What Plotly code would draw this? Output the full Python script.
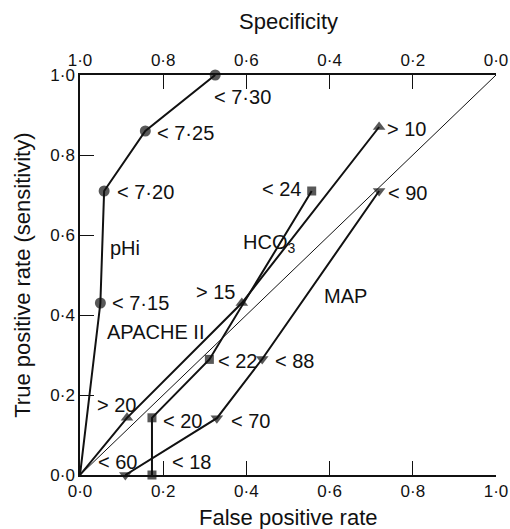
import plotly.graph_objects as go

# ---- data ----
phi_fpr = [0.0, 0.049, 0.058, 0.157, 0.325]
phi_tpr = [0.0, 0.43, 0.71, 0.86, 1.0]
phi_labels = ["", "< 7·15", "< 7·20", "< 7·25", "< 7·30"]

apache_fpr = [0.0, 0.113, 0.389, 0.719]
apache_tpr = [0.0, 0.143, 0.43, 0.87]
apache_labels = ["", "> 20", "> 15", "> 10"]

hco3_fpr = [0.173, 0.173, 0.311, 0.557]
hco3_tpr = [0.0, 0.143, 0.289, 0.71]
hco3_labels = ["< 18", "< 20", "< 22", "< 24"]

map_fpr = [0.109, 0.329, 0.438, 0.719]
map_tpr = [0.0, 0.142, 0.29, 0.71]
map_labels = ["< 60", "< 70", "< 88", "< 90"]

diag = [0.0, 1.0]

tick_vals = [0.0, 0.2, 0.4, 0.6, 0.8, 1.0]
tick_text = ["0·0", "0·2", "0·4", "0·6", "0·8", "1·0"]
spec_vals = [1.0, 0.8, 0.6, 0.4, 0.2, 0.0]
spec_text = ["1·0", "0·8", "0·6", "0·4", "0·2", "0·0"]

FONT = "Liberation Sans, Arial, Helvetica, sans-serif"
BLACK = "#111111"

fig = go.Figure()

fig.add_trace(go.Scatter(x=diag, y=diag, mode="lines",
                         line=dict(color=BLACK, width=1), hoverinfo="skip"))

def curve(xs, ys, symbol, size, msizes=None):
    sizes = msizes if msizes is not None else [size] * len(xs)
    fig.add_trace(go.Scatter(x=xs, y=ys, mode="lines+markers",
                             line=dict(color=BLACK, width=2),
                             marker=dict(symbol=symbol, size=sizes, color=BLACK,
                                         line=dict(width=0)),
                             cliponaxis=False))

curve(phi_fpr, phi_tpr, "circle", 11, [0, 11, 11, 11, 11])
curve(apache_fpr, apache_tpr, "triangle-up", 11, [0, 11, 11, 11])
curve(hco3_fpr, hco3_tpr, "square", 9)
curve(map_fpr, map_tpr, "triangle-down", 11)

# trace anchoring the top (specificity) axis
fig.add_trace(go.Scatter(x=spec_vals, y=[None] * len(spec_vals), xaxis="x2",
                         mode="markers", marker=dict(size=1, opacity=0), hoverinfo="skip"))

ann = []
def lab(x, y, text, anchor="left", size=20):
    ann.append(dict(x=x, y=y, xref="x", yref="y", text=text, showarrow=False,
                    xanchor=anchor, yanchor="middle",
                    font=dict(family=FONT, size=size, color=BLACK)))

# pHi labels
lab(0.318, 0.945, phi_labels[4])
lab(0.181, 0.855, phi_labels[3])
lab(0.085, 0.708, phi_labels[2])
lab(0.072, 0.430, phi_labels[1])
lab(0.068, 0.567, "pHi")
# APACHE labels
lab(0.059, 0.358, "APACHE II")
lab(0.035, 0.175, apache_labels[1])
lab(0.378, 0.458, apache_labels[2], "right")
lab(0.733, 0.864, apache_labels[3])
# HCO3 labels
lab(0.535, 0.715, hco3_labels[3], "right")
lab(0.386, 0.580, "HCO<sub>3</sub>")
lab(0.327, 0.285, hco3_labels[2])
lab(0.195, 0.135, hco3_labels[1])
lab(0.216, 0.033, hco3_labels[0])
# MAP labels
lab(0.581, 0.448, "MAP")
lab(0.736, 0.706, map_labels[3])
lab(0.464, 0.285, map_labels[2])
lab(0.359, 0.135, map_labels[1])
lab(0.039, 0.033, map_labels[0])

# axis titles
ann.append(dict(x=0.5, y=-0.105, xref="paper", yref="paper", text="False positive rate",
                showarrow=False, xanchor="center", yanchor="middle",
                font=dict(family=FONT, size=22, color=BLACK)))
ann.append(dict(x=0.5, y=1.133, xref="paper", yref="paper", text="Specificity",
                showarrow=False, xanchor="center", yanchor="middle",
                font=dict(family=FONT, size=22, color=BLACK)))
ann.append(dict(x=-0.14, y=0.5, xref="paper", yref="paper",
                text="True positive rate (sensitivity)", textangle=-90,
                showarrow=False, xanchor="center", yanchor="middle",
                font=dict(family=FONT, size=22, color=BLACK)))

axis_common = dict(showgrid=False, zeroline=False, showline=True, linecolor=BLACK,
                   linewidth=1.5, ticks="inside", ticklen=14, tickwidth=1.2,
                   automargin=False,
                   tickcolor=BLACK, tickfont=dict(family=FONT, size=17, color=BLACK))

fig.update_layout(
    width=510, height=529,
    margin=dict(l=80, r=14, t=75, b=54, autoexpand=False),
    paper_bgcolor="white", plot_bgcolor="white",
    showlegend=False,
    annotations=ann,
    xaxis=dict(range=[0, 1], tickvals=tick_vals, ticktext=tick_text, **axis_common),
    yaxis=dict(range=[0, 1], tickvals=tick_vals, ticktext=tick_text, **axis_common),
    xaxis2=dict(range=[1, 0], overlaying="x", side="top", anchor="y",
                tickvals=spec_vals, ticktext=spec_text, **axis_common),
)

# remove the browser's default page margin so the figure fills the window exactly
fig.write_html("out.html",
               config={"displayModeBar": False},
               post_script="document.body.style.margin='0';document.body.style.overflow='hidden';")
